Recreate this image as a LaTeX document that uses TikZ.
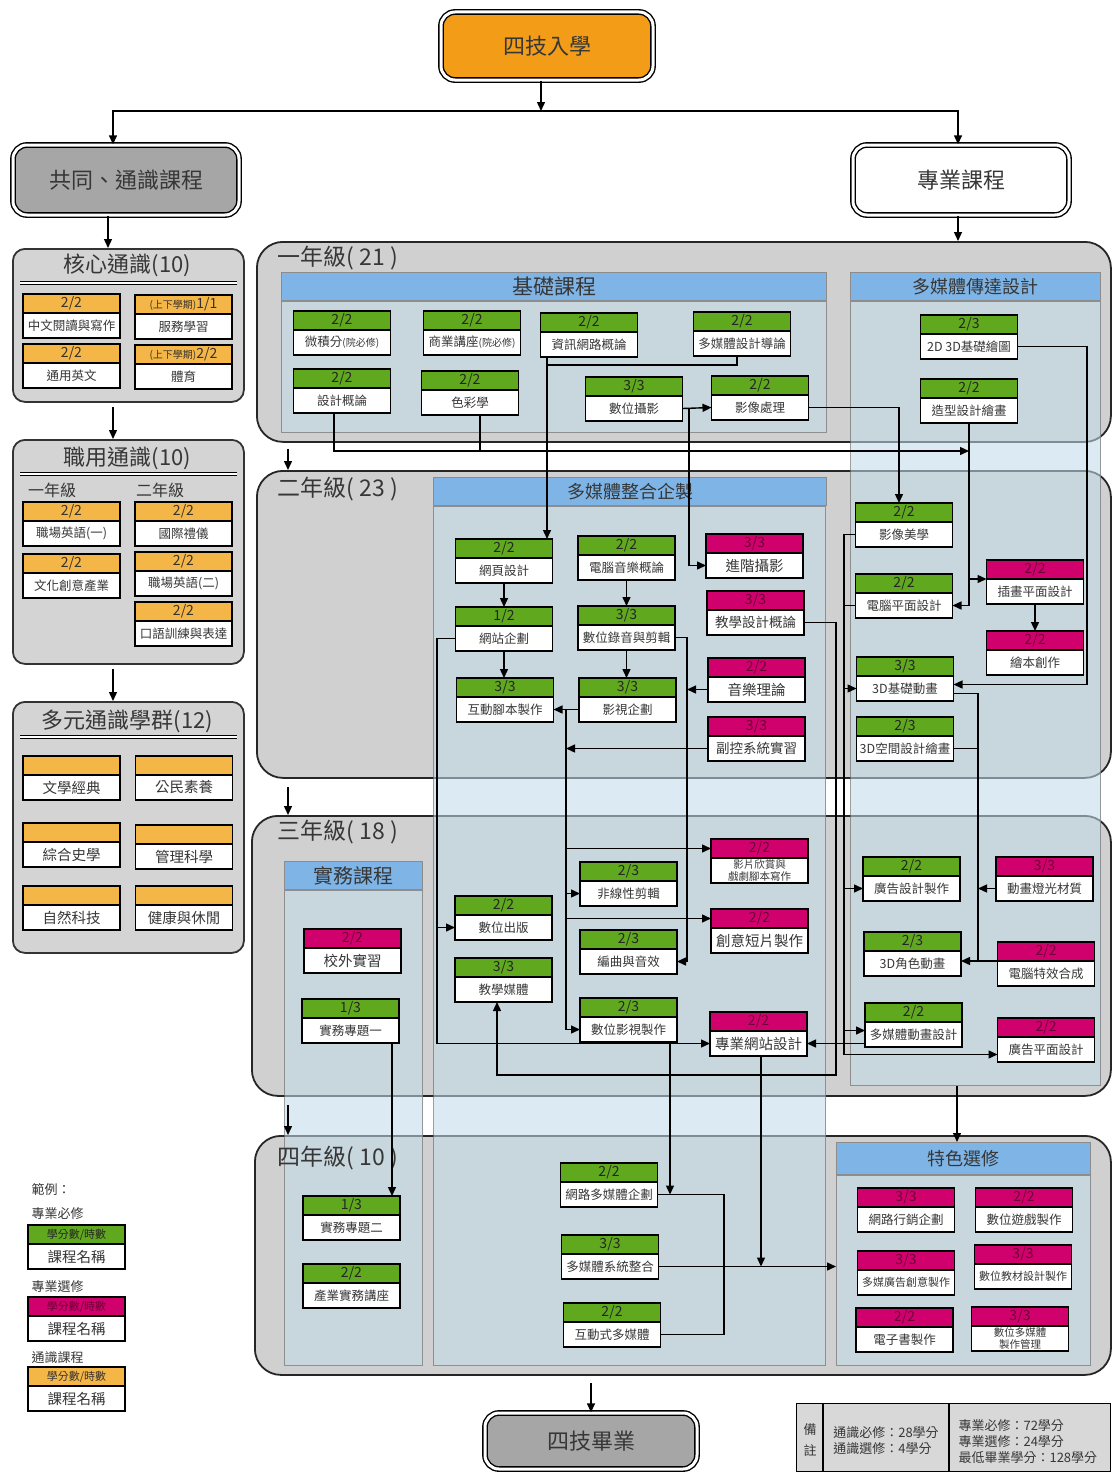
\documentclass[tikz,border=0pt]{standalone}
\usepackage{fontspec}
\setmainfont{Noto Sans CJK TC}
\usetikzlibrary{positioning,arrows.meta}

\definecolor{creq}{RGB}{96,168,30}
\definecolor{cele}{RGB}{208,0,108}
\definecolor{celetxt}{RGB}{110,0,55}
\definecolor{cgen}{RGB}{245,182,72}
\definecolor{entryor}{RGB}{242,156,24}
\definecolor{gpanel}{RGB}{212,212,212}
\definecolor{ypanel}{RGB}{208,208,208}
\definecolor{colfill}{RGB}{194,220,234}
\definecolor{hblue}{RGB}{126,180,230}
\definecolor{gbox}{RGB}{166,166,166}
\definecolor{notefill}{RGB}{216,216,216}
\definecolor{txt}{RGB}{55,55,55}

\newcommand{\smtxt}[1]{{\fontsize{10}{11}\selectfont #1}}
\newcommand{\lgtxt}{\fontsize{14.5}{16}\selectfont}
\newcommand{\mdtxt}{\fontsize{13.5}{15}\selectfont}
\newcommand{\nrtxt}{\fontsize{11}{12}\selectfont}
\newcommand{\legh}{\fontsize{11}{12}\selectfont}
\newcommand{\twoline}[2]{{\fontsize{10.5}{10.5}\selectfont #1}\\[-1pt]{\fontsize{10.5}{10.5}\selectfont #2}}
\newcommand{\course}[6][97pt]{%
  \node[hdr,#2,minimum width=#1] (#3-h) at (#4) {#5};
  \node[crs,minimum width=#1,below=0pt of #3-h] (#3) {#6};}

\begin{document}
\begin{tikzpicture}[x=1pt,y=-1pt,
  ln/.style={line width=1.4pt},
  arr/.style={line width=1.4pt,-{Triangle[length=9pt,width=8pt]}},
  dbox/.style={draw,line width=1.4pt,double=white,double distance=3pt,rounded corners=14pt,text=txt,font=\fontsize{22}{24}\selectfont},
  genpanel/.style={draw=black!80,line width=1.8pt,fill=gpanel,rounded corners=12pt,anchor=north west,inner sep=0pt},
  yrpanel/.style={draw=black!85,line width=1.8pt,fill=ypanel,rounded corners=26pt,anchor=north west,inner sep=0pt},
  colbody/.style={draw=black!55,line width=1pt,fill=colfill,fill opacity=0.57,draw opacity=0.7,anchor=north west,inner sep=0pt},
  colhead/.style={draw=black!45,line width=1pt,fill=hblue,anchor=south west,inner sep=0pt,text=txt,font=\fontsize{18}{20}\selectfont},
  gtitle/.style={text=txt,font=\fontsize{22}{24}\selectfont},
  ytitle/.style={anchor=west,text=txt,font=\fontsize{23}{25}\selectfont},
  plain/.style={text=txt,font=\fontsize{13}{16}\selectfont},
  hdr/.style={draw,line width=1.6pt,anchor=north,minimum height=19pt,inner sep=0pt,outer sep=0pt,font=\fontsize{14}{15}\selectfont},
  crs/.style={draw,line width=1.6pt,fill=white,minimum height=25pt,inner sep=0pt,outer sep=0pt,text=txt,align=center,font=\fontsize{12.5}{13}\selectfont},
  req/.style={fill=creq,text=black!85},
  ele/.style={fill=cele,text=celetxt},
  gen/.style={fill=cgen,text=black!80}
]
\useasboundingbox (0,0) rectangle (1112,1472);

\node[dbox,fill=entryor,minimum width=212pt,minimum height=68pt] (entry) at (547,46) {四技入學};
\node[dbox,fill=gbox,minimum width=226pt,minimum height=70pt] (common) at (126,180) {共同、通識課程};
\node[dbox,fill=white,minimum width=216pt,minimum height=70pt] (pro) at (961,180) {專業課程};
\node[dbox,fill=gbox,minimum width=212pt,minimum height=56pt] (grad) at (591,1441) {四技畢業};

% general courses
\node[genpanel,minimum width=231pt,minimum height=153pt] (core) at (12,248) {};
\node[gtitle] (core-t) at (127.5,265) {核心通識(10)};
\draw[double,double distance=1.6pt,line width=1pt] ([xshift=8pt,yshift=-35pt]core.north west) -- ([xshift=-8pt,yshift=-35pt]core.north east);
\course{gen}{zh}{71.5,294}{2/2}{中文閱讀與寫作}
\course{gen}{serv}{183.5,295}{\smtxt{(上下學期)}1/1}{服務學習}
\course{gen}{eng}{71.5,344}{2/2}{通用英文}
\course{gen}{pe}{183.5,345}{\smtxt{(上下學期)}2/2}{體育}

\node[genpanel,minimum width=231pt,minimum height=224pt] (voc) at (12,439) {};
\node[gtitle] (voc-t) at (127.5,458) {職用通識(10)};
\draw[double,double distance=1.6pt,line width=1pt] ([xshift=8pt,yshift=-35pt]voc.north west) -- ([xshift=-8pt,yshift=-35pt]voc.north east);
\node[plain,font=\fontsize{16}{18}\selectfont] (voc-y1) at (52,490) {一年級};
\node[plain,font=\fontsize{16}{18}\selectfont] (voc-y2) at (160,490) {二年級};
\course{gen}{we1}{71.5,502}{2/2}{職場英語(一)}
\course{gen}{cci}{71.5,554}{2/2}{文化創意產業}
\course{gen}{etq}{183.5,502}{2/2}{國際禮儀}
\course{gen}{we2}{183.5,552}{2/2}{職場英語(二)}
\course{gen}{oral}{183.5,602}{2/2}{口語訓練與表達}

\node[genpanel,minimum width=231pt,minimum height=251pt] (multi) at (12,701) {};
\node[gtitle] (multi-t) at (127.5,721) {多元通識學群(12)};
\draw[double,double distance=1.6pt,line width=1pt] ([xshift=8pt,yshift=-36pt]multi.north west) -- ([xshift=-8pt,yshift=-36pt]multi.north east);
\course{gen}{lit}{71.5,756}{}{\lgtxt 文學經典}
\course{gen}{civ}{184,756}{}{\lgtxt 公民素養}
\course{gen}{hist}{71.5,823}{}{\lgtxt 綜合史學}
\course{gen}{mgmt}{184,825}{}{\lgtxt 管理科學}
\course{gen}{nat}{71.5,886}{}{\lgtxt 自然科技}
\course{gen}{hlth}{184,886}{}{\lgtxt 健康與休閒}

% year panels and columns
\node[yrpanel,minimum width=854pt,minimum height=200pt] (y1) at (256,241) {};
\node[yrpanel,minimum width=854pt,minimum height=307pt] (y2) at (256,470) {};
\node[yrpanel,minimum width=859pt,minimum height=280pt] (y3) at (251,815) {};
\node[yrpanel,minimum width=856pt,minimum height=239pt] (y4) at (254,1135) {};

\node[colbody,minimum width=545pt,minimum height=131pt] (basecol) at (281,301) {};
\node[colbody,minimum width=250pt,minimum height=784pt] (mcdcol) at (850,301) {};
\node[colbody,minimum width=392pt,minimum height=859pt] (intcol) at (433,506) {};
\node[colbody,minimum width=138pt,minimum height=475pt] (praccol) at (284,890) {};
\node[colbody,minimum width=254pt,minimum height=190pt] (speccol) at (836,1175) {};
\node[colhead,minimum width=545pt,minimum height=28pt,font=\fontsize{21}{22}\selectfont] (basehd) at (basecol.north west) {基礎課程};
\node[colhead,minimum width=250pt,minimum height=28pt] (mcdhd) at (mcdcol.north west) {多媒體傳達設計};
\node[colhead,minimum width=393pt,minimum height=28pt] (inthd) at (intcol.north west) {多媒體整合企製};
\node[colhead,minimum width=138pt,minimum height=28pt,font=\fontsize{20}{22}\selectfont] (prachd) at (praccol.north west) {實務課程};
\node[colhead,minimum width=254pt,minimum height=32pt] (spechd) at (speccol.north west) {特色選修};

\node[ytitle] (y1-t) at (274,258) {一年級( 21 )};
\node[ytitle] (y2-t) at (274,489) {二年級( 23 )};
\node[ytitle] (y3-t) at (274,832) {三年級( 18 )};
\node[ytitle] (y4-t) at (274,1158) {四年級( 10 )};

% year 1
\course{req}{calc}{342,311}{2/2}{微積分\smtxt{(院必修)}}
\course{req}{biz}{472,311}{2/2}{商業講座\smtxt{(院必修)}}
\course{req}{netintro}{589,313}{2/2}{資訊網路概論}
\course{req}{mmintro}{742,312}{2/2}{多媒體設計導論}
\course{req}{desintro}{342,369}{2/2}{設計概論}
\course{req}{chroma}{470,371}{2/2}{色彩學}
\course{req}{photo}{634,377}{3/3}{數位攝影}
\course{req}{imgproc}{760,376}{2/2}{影像處理}
\course{req}{draw23}{969,315}{2/3}{2D 3D基礎繪圖}
\course{req}{shape}{969,379}{2/2}{造型設計繪畫}

% year 2
\course{req}{web}{504,539}{2/2}{網頁設計}
\course{req}{cmusic}{626.5,536}{2/2}{電腦音樂概論}
\course{ele}{advphoto}{754.5,534}{3/3}{\lgtxt 進階攝影}
\course{req}{site}{504,607}{1/2}{網站企劃}
\course{req}{rec}{626.5,606}{3/3}{數位錄音與剪輯}
\course{ele}{teachdes}{755.5,591}{3/3}{\mdtxt 教學設計概論}
\course{req}{script}{505,678}{3/3}{互動腳本製作}
\course{req}{film}{627.5,678}{3/3}{影視企劃}
\course{ele}{mtheory}{756.5,658}{2/2}{\lgtxt 音樂理論}
\course{ele}{subctrl}{756.5,717}{3/3}{\mdtxt 副控系統實習}
\course{req}{imgaes}{904,503}{2/2}{影像美學}
\course{req}{cgraph}{904,574}{2/2}{電腦平面設計}
\course{ele}{illus}{1035,560}{2/2}{插畫平面設計}
\course{ele}{picbook}{1035,631}{2/2}{繪本創作}
\course{req}{anim3d}{905,657}{3/3}{3D基礎動畫}
\course{req}{space3d}{905,717}{2/3}{3D空間設計繪畫}

% year 3
\course{ele}{intern}{352.5,929}{2/2}{\lgtxt 校外實習}
\course{req}{proj1}{350.5,999}{1/3}{實務專題一}
\course{req}{pub}{503.5,896}{2/2}{數位出版}
\course{req}{tmedia}{503.5,958}{3/3}{教學媒體}
\course{req}{edit}{628.5,862}{2/3}{非線性剪輯}
\course{req}{sound}{628.5,930}{2/3}{編曲與音效}
\course{req}{video}{628.5,998}{2/3}{數位影視製作}
\course{ele}{drama}{759.5,839}{2/2}{\twoline{影片欣賞與}{戲劇腳本寫作}}
\course{ele}{short}{759.5,909}{2/2}{\lgtxt 創意短片製作}
\course{ele}{proweb}{758.5,1012}{2/2}{\lgtxt 專業網站設計}
\course{req}{ad}{911.5,857}{2/2}{廣告設計製作}
\course{ele}{light}{1044.5,857}{3/3}{動畫燈光材質}
\course{req}{char3d}{912.5,932}{2/3}{3D角色動畫}
\course{ele}{vfx}{1046,942}{2/2}{電腦特效合成}
\course{req}{mmanim}{913.5,1003}{2/2}{多媒體動畫設計}
\course{ele}{adflat}{1046,1018}{2/2}{廣告平面設計}

% year 4
\course{req}{proj2}{351.5,1196}{1/3}{實務專題二}
\course{req}{lecture}{351.5,1264}{2/2}{產業實務講座}
\course{req}{netmm}{609,1163}{2/2}{網路多媒體企劃}
\course{req}{sysint}{610,1235}{3/3}{多媒體系統整合}
\course{req}{intmm}{612,1303}{2/2}{互動式多媒體}
\course{ele}{mkt}{906,1188}{3/3}{網路行銷企劃}
\course{ele}{game}{1024,1188}{2/2}{數位遊戲製作}
\course{ele}{adcre}{906,1251}{3/3}{\nrtxt 多媒廣告創意製作}
\course{ele}{elearn}{1023,1245}{3/3}{\nrtxt 數位教材設計製作}
\course{ele}{ebook}{904.5,1308}{2/2}{電子書製作}
\course{ele}{dmm}{1020,1307}{3/3}{\twoline{數位多媒體}{製作管理}}

% legend and notes
\node[plain,anchor=west] (leg) at (28,1190) {範例：};
\node[plain,anchor=west] (leg1-t) at (28,1214) {專業必修};
\course{req}{leg1}{76.5,1225}{\legh 學分數/時數}{\lgtxt 課程名稱}
\node[plain,anchor=west] (leg2-t) at (28,1287) {專業選修};
\course{ele}{leg2}{76.5,1297}{\legh 學分數/時數}{\lgtxt 課程名稱}
\node[plain,anchor=west] (leg3-t) at (28,1358) {通識課程};
\course{gen}{leg3}{76.5,1367}{\legh 學分數/時數}{\lgtxt 課程名稱}

\node[draw,line width=1.4pt,fill=notefill,minimum width=314pt,minimum height=68pt,anchor=north west,inner sep=0pt] (notes) at (796,1403) {};
\draw[ln] ([xshift=27pt]notes.north west) -- ([xshift=27pt]notes.south west);
\draw[ln] ([xshift=153pt]notes.north west) -- ([xshift=153pt]notes.south west);
\node[plain,align=center] (note-a) at (810,1440) {備\\[5pt]註};
\node[plain,align=left] (note-b) at (886,1441) {通識必修：28學分\\通識選修：4學分};
\node[plain,align=left,anchor=west] (note-c) at (955,1442) {專業必修：72學分\\專業選修：24學分\\最低畢業學分：128學分};

% connectors
\coordinate (split) at (541,111);
\coordinate (xg) at (113,0);
\coordinate (xc) at (108,0);
\coordinate (xr) at (958,0);
\coordinate (xy) at (288,0);
\coordinate (xnet) at (547,0);
\coordinate (xmm) at (737,0);
\coordinate (xdes) at (334,0);
\coordinate (xchr) at (480,0);
\coordinate (xsh) at (969,451);
\coordinate (xph) at (689,0);
\coordinate (xaes) at (899,0);
\coordinate (x2d) at (1087,0);
\coordinate (xl1) at (844,0);
\coordinate (xl2) at (836,0);
\coordinate (xtm) at (497,1075);
\coordinate (x3d) at (978,0);
\coordinate (xfilm) at (566,0);
\coordinate (xrec) at (687,0);
\coordinate (xsite) at (437,0);
\coordinate (xp1) at (392,0);
\coordinate (xvid) at (670,0);
\coordinate (xnm) at (724,0);
\coordinate (xpw) at (761,0);
\coordinate (xsp) at (957,0);
\coordinate (a3in) at ([yshift=4pt]anim3d.east);
\coordinate (a3out) at ([yshift=-5pt]anim3d.east);
\coordinate (mmin) at ([yshift=4pt]mmanim.west);
\coordinate (adin) at ([yshift=-5pt]adflat.west);

\draw[arr] (split |- entry.south) -- (split);
\draw[arr] (split) -| (xg |- common.north);
\draw[arr] (split) -| (xr |- pro.north);
\draw[arr] (xc |- common.south) -- (xc |- core.north);
\draw[arr] (xr |- pro.south) -- (xr |- y1.north);
\draw[arr,shorten <=4pt] (xg |- core.south) -- (xg |- voc.north);
\draw[arr,shorten <=4pt] (xg |- voc.south) -- (xg |- multi.north);
\draw[arr,shorten <=6pt] (xy |- y1.south) -- (xy |- y2.north);
\draw[arr,shorten <=8pt] (xy |- y2.south) -- (xy |- y3.north);
\draw[arr,shorten <=8pt] (xy |- y3.south) -- (xy |- y4.north);
\draw[arr,shorten <=7pt] (grad.north |- y4.south) -- (grad.north);

\draw[arr] (xnet |- netintro.south) -- (xnet |- web-h.north);
\draw[ln] (xmm |- mmintro.south) -- ++(0,9) -| (xnet |- netintro.south);
\draw[arr] (xdes |- desintro.south) |- (xsh);
\draw[ln] (xchr |- chroma.south) -- (xchr |- xsh);
\draw[arr] (photo.east) -- (imgproc.west);
\draw[arr] (xph |- photo.east) |- (advphoto.west);
\draw[arr] (imgproc.east) -| (xaes |- imgaes-h.north);
\draw[arr] (draw23.east) -| (x2d |- a3in) -- (a3in);
\draw[arr] (xsh |- shape.south) |- (cgraph.east);
\draw[arr] (xsh |- illus.north west) -- (illus.north west);
\draw[arr] (illus.south) -- (picbook-h.north);

\draw[arr] (imgaes.west) -| (xl1 |- adin) -- (adin);
\draw[ln] (cgraph.west) -- (xl1 |- cgraph.west);
\draw[arr] (xl1 |- anim3d.west) -- (anim3d.west);
\draw[arr] (xl1 |- ad.west) -- (ad.west);
\draw[arr] (xl1 |- mmin) -- (mmin);
\draw[arr] (teachdes.east) -| (xl2 |- xtm) -| (xtm |- tmedia.south);
\draw[arr] (a3out) -| (x3d |- vfx.north west) -- (char3d.east |- vfx.north west);
\draw[ln] (space3d.east) -- (x3d |- space3d.east);
\draw[arr] (light.west) -- (x3d |- light.west);
\draw[ln] (vfx.north west) -- (x3d |- vfx.north west);

\draw[arr] (web.south) -- (site-h.north);
\draw[arr] (site.south) -- (site.south |- script-h.north);
\draw[arr] (cmusic.south) -- (cmusic.south |- rec-h.north);
\draw[arr] (rec.south) -- (rec.south |- film-h.north);
\draw[arr] (film.west) -- (script.east |- film.west);
\draw[ln] (xfilm |- film.west) -- (xfilm |- video.west);
\draw[arr] (xfilm |- drama-h.west) -- (drama-h.west);
\draw[arr] (xfilm |- edit.west) -- (edit.west);
\draw[arr] (xfilm |- short-h.west) -- (short-h.west);
\draw[arr] (xfilm |- video.west) -- (video.west);
\draw[arr] (subctrl.west) -- (xfilm |- subctrl.west);
\draw[arr] (rec.east) -| (xrec |- sound.east) -- (sound.east);
\draw[arr] (mtheory.west) -- (xrec |- mtheory.west);
\draw[arr] (site.west) -| (xsite |- proweb.west) -- (proweb.west);
\draw[arr] (xsite |- pub.west) -- (pub.west);
\draw[arr] (mmanim.west |- proweb.east) -- (proweb.east);

\draw[arr] (xp1 |- proj1.south) -- (xp1 |- proj2-h.north);
\draw[arr] (xvid |- video.south) -- (xvid |- netmm.east);
\draw[ln] (netmm.east) -| (xnm |- intmm.east) -- (intmm.east);
\draw[arr] (sysint.east) -- (sysint.east -| speccol.west);
\draw[arr] (xpw |- proweb.south) -- (xpw |- sysint.east);
\draw[arr] (xsp |- mcdcol.south) -- (xsp |- spechd.north);
\end{tikzpicture}
\end{document}
